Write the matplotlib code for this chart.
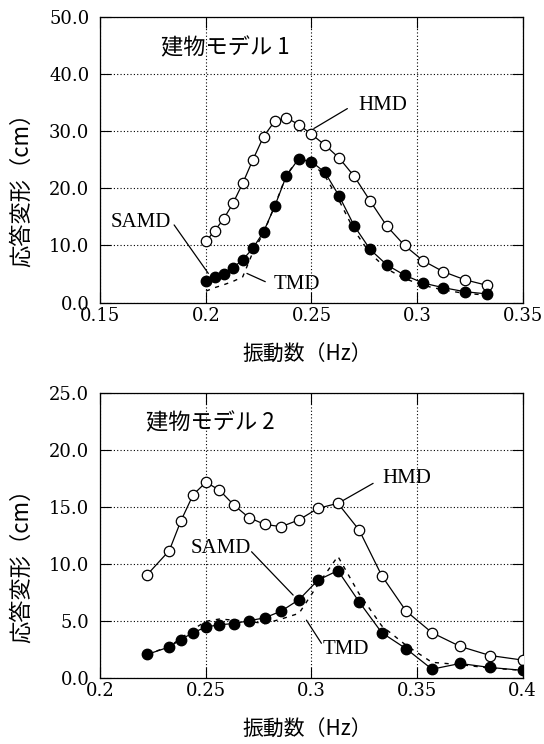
import matplotlib
matplotlib.use("Agg")
import matplotlib.pyplot as plt

# ---------------- data ----------------
freq1 = [0.2000, 0.2041, 0.2083, 0.2128, 0.2174, 0.2222, 0.2273, 0.2326, 0.2381, 0.2439,
         0.2500, 0.2564, 0.2632, 0.2703, 0.2778, 0.2857, 0.2941, 0.3030, 0.3125, 0.3226, 0.3333]
hmd1 = [10.7, 12.6, 14.6, 17.4, 20.9, 25.0, 29.1, 31.8, 32.4, 31.2,
        29.5, 27.6, 25.3, 22.1, 17.8, 13.4, 10.0, 7.3, 5.4, 4.0, 3.0]
samd1 = [3.8, 4.4, 5.0, 6.1, 7.5, 9.5, 12.4, 16.9, 22.2, 25.2,
         24.7, 22.8, 18.6, 13.4, 9.3, 6.6, 4.8, 3.4, 2.6, 1.9, 1.5]
tmd1 = [2.0, 2.6, 3.1, 3.7, 4.5, 8.8, 12.2, 17.0, 22.3, 25.3,
        24.5, 22.2, 17.8, 12.6, 8.6, 5.9, 4.2, 3.0, 2.2, 1.6, 1.3]

freq2 = [0.2222, 0.2326, 0.2381, 0.2439, 0.2500, 0.2564, 0.2632, 0.2703, 0.2778, 0.2857,
         0.2941, 0.3030, 0.3125, 0.3226, 0.3333, 0.3448, 0.3571, 0.3704, 0.3846, 0.4000]
hmd2 = [9.1, 11.2, 13.8, 16.1, 17.2, 16.5, 15.2, 14.1, 13.5, 13.3,
        13.9, 14.9, 15.35, 13.0, 9.0, 5.9, 4.0, 2.8, 2.0, 1.6]
samd2 = [2.1, 2.75, 3.4, 4.0, 4.5, 4.7, 4.8, 5.05, 5.3, 5.9,
         6.9, 8.6, 9.45, 6.7, 4.0, 2.6, 0.8, 1.3, 0.95, 0.7]
tmd2 = [2.1, 2.8, 3.5, 4.3, 5.0, 5.2, 5.1, 5.0, 4.8, 5.2,
        5.7, 8.2, 10.7, 7.4, 4.6, 2.9, 1.4, 1.2, 0.9, 0.7]

xticks1 = [0.15, 0.2, 0.25, 0.3, 0.35]
xticklabels1 = ["0.15", "0.2", "0.25", "0.3", "0.35"]
yticks1 = [0, 10, 20, 30, 40, 50]
xticks2 = [0.2, 0.25, 0.3, 0.35, 0.4]
xticklabels2 = ["0.2", "0.25", "0.3", "0.35", "0.4"]
yticks2 = [0, 5, 10, 15, 20, 25]

title1 = "建物モデル 1"
title2 = "建物モデル 2"
ylabel = "応答変形（cm）"
xlabel = "振動数（Hz）"

CJK = ["Noto Sans CJK JP", "DejaVu Sans"]
SERIF_TICK = "DejaVu Serif"
SERIF_LBL = "Liberation Serif"

fig = plt.figure(figsize=(5.44, 7.44), dpi=100)
ax1 = fig.add_axes([0.1847, 0.5934, 0.7758, 0.3833])
ax2 = fig.add_axes([0.1847, 0.0883, 0.7758, 0.3831])


def style(ax, xticks, xtl, yticks, xlim, ylim):
    ax.set_xlim(*xlim)
    ax.set_ylim(*ylim)
    ax.set_xticks(xticks)
    ax.set_xticklabels(xtl, family=SERIF_TICK, fontsize=13)
    ax.set_yticks(yticks)
    ax.set_yticklabels(["%.1f" % v for v in yticks], family=SERIF_TICK, fontsize=13)
    ax.grid(True, color="black", linestyle=(0, (1, 2)), linewidth=0.8)
    ax.tick_params(direction="in", length=8, width=0.8, top=True, right=True)
    ax.tick_params(axis="x", pad=3)
    ax.tick_params(axis="y", pad=8)
    for s in ax.spines.values():
        s.set_linewidth(0.9)
        s.set_color("black")
    ax.set_xlabel(xlabel, family=CJK, fontsize=15)
    ax.set_ylabel(ylabel, family=CJK, fontsize=16)


def draw(ax, f, h, s, t):
    ax.plot(f, t, color="black", linestyle=(0, (3, 4)), linewidth=1.0, zorder=3)
    ax.plot(f, h, color="black", linewidth=0.9, marker="o", markersize=7.5,
            markerfacecolor="white", markeredgecolor="black", markeredgewidth=0.9, zorder=4)
    ax.plot(f, s, color="black", linewidth=0.9, marker="o", markersize=7.5,
            markerfacecolor="black", markeredgecolor="black", zorder=5)


def leader(ax, p0, p1):
    ax.annotate("", xy=p1, xytext=p0,
                arrowprops=dict(arrowstyle="-", color="black", lw=0.9,
                                shrinkA=0, shrinkB=0))


# ---- top panel ----
style(ax1, xticks1, xticklabels1, yticks1, (0.15, 0.35), (0, 50))
draw(ax1, freq1, hmd1, samd1, tmd1)
ax1.text(0.1789, 44.6, title1, family=CJK, fontsize=16, va="center", ha="left")
ax1.text(0.2838, 34.6, "HMD", family=SERIF_LBL, fontsize=15, va="center", ha="center")
leader(ax1, (0.2670, 34.0), (0.2511, 30.5))
ax1.text(0.1690, 14.1, "SAMD", family=SERIF_LBL, fontsize=15, va="center", ha="center")
leader(ax1, (0.1849, 13.6), (0.2011, 5.1))
ax1.text(0.2429, 3.2, "TMD", family=SERIF_LBL, fontsize=15, va="center", ha="center")
leader(ax1, (0.2281, 3.65), (0.2194, 5.1))
ax1.xaxis.set_label_coords(0.49, -0.14)
ax1.yaxis.set_label_coords(-0.16, 0.415)

# ---- bottom panel ----
style(ax2, xticks2, xticklabels2, yticks2, (0.2, 0.4), (0, 25))
draw(ax2, freq2, hmd2, samd2, tmd2)
ax2.text(0.2218, 22.4, title2, family=CJK, fontsize=16, va="center", ha="left")
ax2.text(0.3453, 17.5, "HMD", family=SERIF_LBL, fontsize=15, va="center", ha="center")
leader(ax2, (0.3292, 17.1), (0.3126, 15.35))
ax2.text(0.2569, 11.35, "SAMD", family=SERIF_LBL, fontsize=15, va="center", ha="center")
leader(ax2, (0.2716, 11.1), (0.2913, 7.3))
ax2.text(0.3161, 2.5, "TMD", family=SERIF_LBL, fontsize=15, va="center", ha="center")
leader(ax2, (0.3047, 3.07), (0.2976, 5.1))
ax2.xaxis.set_label_coords(0.49, -0.14)
ax2.yaxis.set_label_coords(-0.16, 0.415)

fig.savefig("out.png", dpi=100)
